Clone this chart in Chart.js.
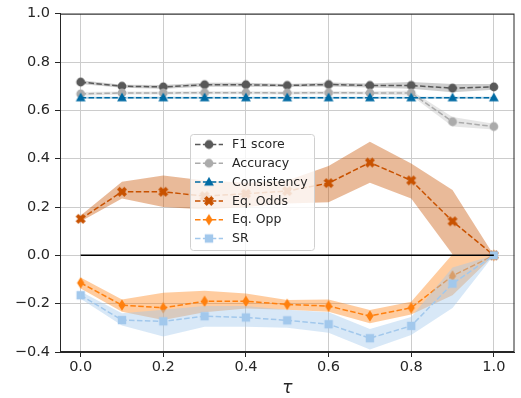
<!DOCTYPE html>
<html>
<head>
<meta charset="utf-8">
<script src="https://cdn.jsdelivr.net/npm/chart.js@4.4.1/dist/chart.umd.min.js"></script>
<style>
    html, body { margin: 0; padding: 0; background: #fff; }
    #wrap { width: 521px; height: 398px; }
</style>
</head>
<body>
<div id="wrap"><canvas id="chart" width="521" height="398"></canvas></div>
<script>
// x values (tau) and ticks
const tau = [0.0, 0.1, 0.2, 0.3, 0.4, 0.5, 0.6, 0.7, 0.8, 0.9, 1.0];
const xTicks = [0.0, 0.2, 0.4, 0.6, 0.8, 1.0];
const yTicks = [-0.4, -0.2, 0.0, 0.2, 0.4, 0.6, 0.8, 1.0];

// series means and bands
const f1Score = [0.717, 0.700, 0.697, 0.706, 0.706, 0.703, 0.707, 0.703, 0.703, 0.692, 0.697];
const f1Low   = [0.709, 0.694, 0.689, 0.698, 0.698, 0.697, 0.699, 0.695, 0.689, 0.675, 0.685];
const f1High  = [0.725, 0.706, 0.705, 0.714, 0.714, 0.709, 0.715, 0.711, 0.717, 0.709, 0.709];

const accuracy = [0.668, 0.672, 0.672, 0.673, 0.673, 0.672, 0.673, 0.672, 0.672, 0.553, 0.533];
const accLow   = [0.660, 0.666, 0.666, 0.667, 0.667, 0.666, 0.667, 0.666, 0.662, 0.533, 0.521];
const accHigh  = [0.676, 0.678, 0.678, 0.679, 0.679, 0.678, 0.679, 0.678, 0.682, 0.573, 0.545];

const consistency = [0.652, 0.652, 0.652, 0.652, 0.652, 0.652, 0.652, 0.652, 0.652, 0.652, 0.652];
const consLow     = [0.648, 0.648, 0.648, 0.648, 0.648, 0.648, 0.648, 0.648, 0.648, 0.648, 0.648];
const consHigh    = [0.656, 0.656, 0.656, 0.656, 0.656, 0.656, 0.656, 0.656, 0.656, 0.656, 0.656];

const eqOdds     = [0.151, 0.263, 0.263, 0.245, 0.255, 0.266, 0.299, 0.384, 0.310, 0.141, 0.0];
const eqOddsLow  = [0.140, 0.235, 0.200, 0.190, 0.200, 0.215, 0.220, 0.300, 0.235, 0.005, 0.0];
const eqOddsHigh = [0.165, 0.305, 0.330, 0.310, 0.300, 0.310, 0.370, 0.470, 0.380, 0.270, 0.0];

const eqOpp     = [-0.114, -0.206, -0.217, -0.190, -0.190, -0.203, -0.210, -0.251, -0.217, -0.085, 0.0];
const eqOppLow  = [-0.137, -0.233, -0.268, -0.235, -0.220, -0.225, -0.233, -0.281, -0.245, -0.165, 0.0];
const eqOppHigh = [-0.092, -0.183, -0.155, -0.147, -0.158, -0.185, -0.183, -0.226, -0.192, 0.005, 0.0];

const sr     = [-0.165, -0.268, -0.273, -0.252, -0.257, -0.269, -0.285, -0.343, -0.292, -0.117, 0.0];
const srLow  = [-0.180, -0.290, -0.336, -0.295, -0.295, -0.300, -0.320, -0.390, -0.330, -0.218, 0.0];
const srHigh = [-0.150, -0.240, -0.225, -0.210, -0.210, -0.225, -0.235, -0.305, -0.255, -0.050, 0.0];

const zeroLine = [0.0, 0.0];

// build little marker images (matplotlib style filled markers)
function makeMarker(shape, color) {
    const s = 14;
    const c = document.createElement('canvas');
    c.width = s; c.height = s;
    const g = c.getContext('2d');
    g.fillStyle = color;
    g.translate(s / 2, s / 2);
    g.beginPath();
    if (shape === 'circle') {
        g.arc(0, 0, 4.4, 0, Math.PI * 2);
    } else if (shape === 'triangle') {
        g.moveTo(0, -5.2); g.lineTo(4.9, 3.6); g.lineTo(-4.9, 3.6);
    } else if (shape === 'square') {
        g.rect(-4.2, -4.2, 8.4, 8.4);
    } else if (shape === 'diamond') {
        g.moveTo(0, -5.8); g.lineTo(3.6, 0); g.lineTo(0, 5.8); g.lineTo(-3.6, 0);
    } else if (shape === 'x') {
        const r = 5.2, w = 1.9;
        const pts = [[-w,-r],[w,-r],[w,-w],[r,-w],[r,w],[w,w],[w,r],[-w,r],[-w,w],[-r,w],[-r,-w],[-w,-w]];
        const a = Math.PI / 4;
        pts.forEach(function(p, i) {
            const x = p[0] * Math.cos(a) - p[1] * Math.sin(a);
            const y = p[0] * Math.sin(a) + p[1] * Math.cos(a);
            if (i === 0) g.moveTo(x, y); else g.lineTo(x, y);
        });
    }
    g.closePath();
    g.fill();
    return c;
}

function rgba(hex, a) {
    const n = parseInt(hex.slice(1), 16);
    return 'rgba(' + (n >> 16) + ',' + ((n >> 8) & 255) + ',' + (n & 255) + ',' + a + ')';
}

function pts(values) {
    return values.map(function(v, i) { return { x: tau[i], y: v }; });
}

const series = [
    { label: 'F1 score',    values: f1Score,     low: f1Low,     high: f1High,     color: '#595959', shape: 'circle',   alpha: 0.3 },
    { label: 'Accuracy',    values: accuracy,    low: accLow,    high: accHigh,    color: '#ABABAB', shape: 'circle',   alpha: 0.3 },
    { label: 'Consistency', values: consistency, low: consLow,   high: consHigh,   color: '#006BA4', shape: 'triangle', alpha: 0.3 },
    { label: 'Eq. Odds',    values: eqOdds,      low: eqOddsLow, high: eqOddsHigh, color: '#C85200', shape: 'x',        alpha: 0.4 },
    { label: 'Eq. Opp',     values: eqOpp,       low: eqOppLow,  high: eqOppHigh,  color: '#FF800E', shape: 'diamond',  alpha: 0.4 },
    { label: 'SR',          values: sr,          low: srLow,     high: srHigh,     color: '#A2C8EC', shape: 'square',   alpha: 0.42 }
];
series.forEach(function(s) { s.marker = makeMarker(s.shape, s.color); });

// datasets: later matplotlib artists get a lower order so they draw on top
const datasets = [];
let order = 100;
series.forEach(function(s) {
    datasets.push({
        data: pts(s.values),
        borderColor: s.color,
        borderWidth: 1.5,
        borderDash: [5.5, 2.4],
        pointStyle: s.marker,
        pointRadius: 5,
        fill: false,
        order: order--
    });
    datasets.push({
        data: pts(s.high),
        borderWidth: 0,
        pointRadius: 0,
        backgroundColor: rgba(s.color, s.alpha),
        fill: '+1',
        order: order--
    });
    datasets.push({
        data: pts(s.low),
        borderWidth: 0,
        pointRadius: 0,
        fill: false,
        order: order--
    });
});
datasets.push({
    data: [{ x: tau[0], y: zeroLine[0] }, { x: tau[tau.length - 1], y: zeroLine[1] }],
    borderColor: '#000000',
    borderWidth: 1.5,
    pointRadius: 0,
    fill: false,
    order: 0
});

// frame around the plot (all four spines)
const framePlugin = {
    id: 'frame',
    afterDatasetsDraw(chart) {
        const a = chart.chartArea;
        const ctx = chart.ctx;
        ctx.save();
        ctx.strokeStyle = '#262626';
        ctx.lineWidth = 1;
        ctx.strokeRect(a.left + 0.5, a.top + 0.5, a.right - a.left - 1, a.bottom - a.top - 1);
        ctx.restore();
    }
};

// legend box drawn inside the plot like matplotlib's
const legendPlugin = {
    id: 'boxLegend',
    afterDraw(chart) {
        const ctx = chart.ctx;
        const x = 190, y = 134, w = 124, h = 116;
        ctx.save();
        ctx.beginPath();
        ctx.roundRect(x + 0.5, y + 0.5, w, h, 3);
        ctx.fillStyle = 'rgba(255,255,255,0.8)';
        ctx.fill();
        ctx.strokeStyle = '#d0d0d0';
        ctx.lineWidth = 1;
        ctx.stroke();
        series.forEach(function(s, i) {
            const cy = y + 10.5 + i * 18.8;
            ctx.beginPath();
            ctx.setLineDash([5.5, 2.4]);
            ctx.strokeStyle = s.color;
            ctx.lineWidth = 1.5;
            ctx.moveTo(x + 5, cy);
            ctx.lineTo(x + 33, cy);
            ctx.stroke();
            ctx.setLineDash([]);
            ctx.drawImage(s.marker, x + 19 - s.marker.width / 2, cy - s.marker.height / 2);
            ctx.fillStyle = '#262626';
            ctx.font = '12.5px "DejaVu Sans"';
            ctx.textBaseline = 'middle';
            ctx.fillText(s.label, x + 42, cy + 0.5);
        });
        ctx.restore();
    }
};

Chart.defaults.font.family = '"DejaVu Sans", sans-serif';
Chart.defaults.color = '#262626';

new Chart(document.getElementById('chart'), {
    type: 'line',
    data: { datasets: datasets },
    options: {
        responsive: false,
        animation: false,
        events: [],
        layout: { padding: { top: 12, right: 3, left: 0, bottom: 0 } },
        plugins: {
            legend: { display: false },
            tooltip: { enabled: false }
        },
        scales: {
            x: {
                type: 'linear',
                min: -0.05,
                max: 1.05,
                afterBuildTicks: function(s) { s.ticks = xTicks.map(function(v) { return { value: v }; }); },
                afterFit: function(s) { s.height = 46; },
                ticks: {
                    font: { size: 14.5 },
                    padding: 2,
                    maxRotation: 0,
                    callback: function(v) { return v.toFixed(1); }
                },
                grid: { color: '#cccccc', tickColor: '#262626', tickLength: 5 },
                border: { color: '#262626' },
                title: { display: true, text: 'τ', font: { size: 17, style: 'italic' }, padding: { top: 0, bottom: -1 } }
            },
            y: {
                min: -0.4,
                max: 1.0,
                afterBuildTicks: function(s) { s.ticks = yTicks.map(function(v) { return { value: v }; }); },
                afterFit: function(s) { s.width = 60; },
                ticks: {
                    font: { size: 14.5 },
                    padding: 5,
                    callback: function(v) { return v.toFixed(1).replace('-', '\u2212'); }
                },
                grid: { color: '#cccccc', tickColor: '#262626', tickLength: 5 },
                border: { color: '#262626' }
            }
        }
    },
    plugins: [framePlugin, legendPlugin]
});
</script>
</body>
</html>
